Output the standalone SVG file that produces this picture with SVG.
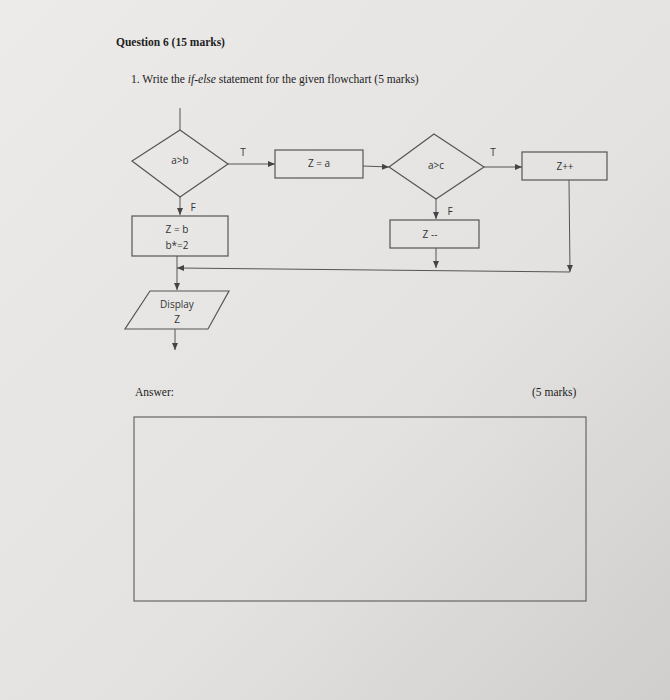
<svg xmlns="http://www.w3.org/2000/svg" width="670" height="700" viewBox="0 0 670 700">
<defs>
<marker id="ah" markerWidth="8" markerHeight="8" refX="7" refY="4" orient="auto" markerUnits="userSpaceOnUse"><path d="M0,1 L7,4 L0,7 Z" fill="#444"/></marker>
<linearGradient id="bg" x1="0" y1="0" x2="1" y2="1"><stop offset="0" stop-color="#ecebe9"/><stop offset="0.6" stop-color="#e3e2e0"/><stop offset="1" stop-color="#cfcecc"/></linearGradient>
</defs>
<style>
.s{fill:none;stroke:#555;stroke-width:1.2}
.c{fill:none;stroke:#555;stroke-width:1}
.t{font-family:"Open Sans",sans-serif;font-size:10px;fill:#333;text-anchor:middle}
.h{font-family:"Liberation Serif",serif;fill:#222}
</style>
<rect width="670" height="700" fill="url(#bg)"/>
<text class="h" x="116" y="46" font-size="11.5" font-weight="bold">Question 6 (15 marks)</text>
<text class="h" x="131" y="83" font-size="11.5">1.  Write the <tspan font-style="italic">if-else</tspan> statement for the given flowchart (5 marks)</text>
<g id="connectors">
<line class="c" x1="180" y1="108" x2="180" y2="130"/>
<line class="c" x1="228" y1="164" x2="275" y2="164" marker-end="url(#ah)"/>
<line class="c" x1="363" y1="166" x2="389" y2="167" marker-end="url(#ah)"/>
<line class="c" x1="484" y1="167" x2="522" y2="167" marker-end="url(#ah)"/>
<line class="c" x1="180" y1="197" x2="180" y2="215" marker-end="url(#ah)"/>
<line class="c" x1="436" y1="199" x2="436" y2="219" marker-end="url(#ah)"/>
<line class="c" x1="436" y1="248" x2="436" y2="268" marker-end="url(#ah)"/>
<line class="c" x1="569" y1="180" x2="570" y2="272" marker-end="url(#ah)"/>
<line class="c" x1="570" y1="272" x2="177" y2="268" marker-end="url(#ah)"/>
<line class="c" x1="177" y1="256" x2="177" y2="290" marker-end="url(#ah)"/>
<line class="c" x1="175" y1="329" x2="175" y2="350" marker-end="url(#ah)"/>
<text class="t" x="243" y="156">T</text>
<text class="t" x="493" y="156">T</text>
<text class="t" x="193" y="211">F</text>
<text class="t" x="450" y="215">F</text>
</g>
<g id="d1"><polygon class="s" points="180,130 228,164 180,197 132,161"/><text class="t" x="180" y="164">a&gt;b</text></g>
<g id="za"><rect class="s" x="275" y="150" width="88" height="28"/><text class="t" x="319" y="167">Z = a</text></g>
<g id="d2"><polygon class="s" points="434,134 484,167 436,199 389,167"/><text class="t" x="436" y="169">a&gt;c</text></g>
<g id="zpp"><rect class="s" x="522" y="152" width="85" height="28"/><text class="t" x="565" y="170">Z++</text></g>
<g id="zb"><rect class="s" x="132" y="216" width="96" height="40"/><text class="t" x="177" y="233">Z = b</text><text class="t" x="177" y="249">b*=2</text></g>
<g id="zmm"><rect class="s" x="390" y="220" width="89" height="28"/><text class="t" x="430" y="238">Z --</text></g>
<g id="disp"><polygon class="s" points="150,291 229,291 208,329 125,329"/><text class="t" x="177" y="308">Display</text><text class="t" x="177" y="323">Z</text></g>
<text class="h" x="135" y="396" font-size="11.5">Answer:</text>
<text class="h" x="532" y="396" font-size="11.5">(5 marks)</text>
<rect id="answer" x="134" y="417" width="452" height="184" fill="none" stroke="#666" stroke-width="1.2"/>
</svg>
